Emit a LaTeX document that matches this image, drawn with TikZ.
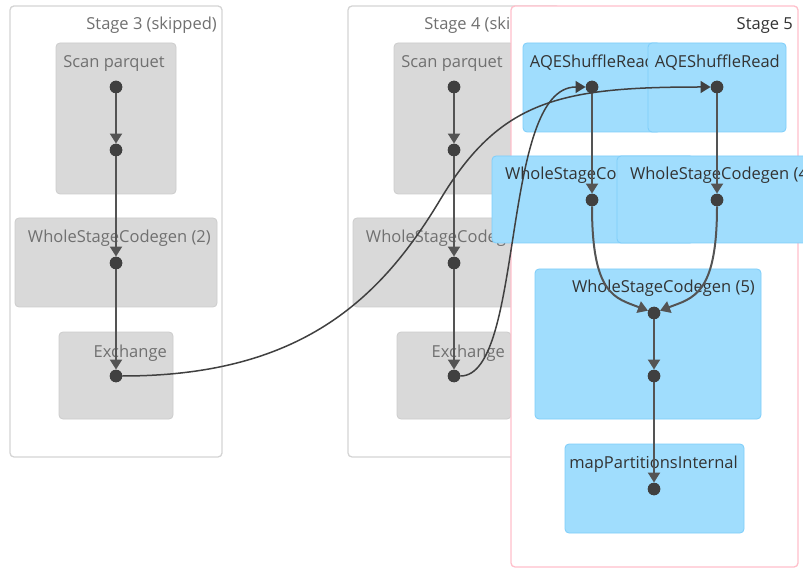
\documentclass[tikz,border=0pt]{standalone}
\usepackage{fontspec}
\setmainfont{Open Sans}
\usetikzlibrary{arrows.meta}
\definecolor{stageline}{RGB}{212,212,212}
\definecolor{pinkline}{RGB}{255,192,203}
\definecolor{grayfill}{RGB}{217,217,217}
\definecolor{grayline}{RGB}{204,204,204}
\definecolor{bluefill}{RGB}{160,221,253}
\definecolor{blueline}{RGB}{125,205,250}
\definecolor{dimtext}{RGB}{112,112,112}
\definecolor{darktext}{RGB}{51,51,51}
\definecolor{dotcol}{RGB}{64,64,64}
\definecolor{edgecol}{RGB}{84,84,84}
\tikzset{
  stagebox/.style={draw=stageline, line width=1.3pt, fill=white, rounded corners=4pt, inner sep=0pt},
  skipbox/.style={fill=grayfill, draw=grayline, line width=0.8pt, rounded corners=4pt, inner sep=0pt},
  livebox/.style={fill=bluefill, draw=blueline, line width=0.8pt, rounded corners=4pt, inner sep=0pt},
  lbl/.style={anchor=base east, inner sep=0pt, font=\fontsize{16.5}{19}\selectfont},
  dimlbl/.style={lbl, text=dimtext},
  darklbl/.style={lbl, text=darktext},
  opdot/.style={circle, fill=dotcol, inner sep=0pt, minimum size=12.5pt},
  flow/.style={draw=edgecol, line width=2pt, -{Triangle[length=10pt,width=12pt]}},
  crossflow/.style={draw=dotcol, line width=1.5pt, -{Triangle[length=10pt,width=12pt]}},
}
\begin{document}
\begin{tikzpicture}[x=1pt, y=-1pt]
\useasboundingbox (0,0) rectangle (803,569);
\clip (0,0) rectangle (803,569);

% Stage 3 (skipped)
\node[stagebox, minimum width=212pt, minimum height=451pt] (stg3) at (116,231.5) {};
\node[dimlbl] (stg3l) at (217,30) {Stage 3 (skipped)};
\node[skipbox, minimum width=120pt, minimum height=151pt] (scan3) at (116,118.5) {};
\node[dimlbl] (scan3l) at (165,68) {Scan parquet};
\node[skipbox, minimum width=202pt, minimum height=89pt] (wsc2) at (116,262.5) {};
\node[dimlbl] (wsc2l) at (211,243) {WholeStageCodegen (2)};
\node[skipbox, minimum width=114pt, minimum height=87pt] (exc3) at (116,375.5) {};
\node[dimlbl] (exc3l) at (167,357) {Exchange};

% Stage 4 (skipped)
\node[stagebox, minimum width=212pt, minimum height=451pt] (stg4) at (454,231.5) {};
\node[dimlbl] (stg4l) at (555,30) {Stage 4 (skipped)};
\node[skipbox, minimum width=120pt, minimum height=151pt] (scan4) at (454,118.5) {};
\node[dimlbl] (scan4l) at (503,68) {Scan parquet};
\node[skipbox, minimum width=202pt, minimum height=89pt] (wsc1) at (454,262.5) {};
\node[dimlbl] (wsc1l) at (549,243) {WholeStageCodegen (1)};
\node[skipbox, minimum width=114pt, minimum height=87pt] (exc4) at (454,375.5) {};
\node[dimlbl] (exc4l) at (505,357) {Exchange};

% Stage 5
\node[draw=pinkline, line width=1.3pt, fill=white, rounded corners=4pt, inner sep=0pt,
      minimum width=287pt, minimum height=561pt] (stg5) at (654.5,286.5) {};
\node[darklbl] (stg5l) at (793,30) {Stage 5};
\node[livebox, minimum width=138pt, minimum height=89pt] (aqe1) at (592,87.5) {};
\node[darklbl] (aqe1l) at (655,68) {AQEShuffleRead};
\node[livebox, minimum width=138pt, minimum height=89pt] (aqe2) at (717,87.5) {};
\node[darklbl] (aqe2l) at (780,68) {AQEShuffleRead};
\node[livebox, minimum width=202pt, minimum height=87pt] (wsc3) at (593,199.5) {};
\node[darklbl] (wsc3l) at (688,180) {WholeStageCodegen (3)};
\node[livebox, minimum width=202pt, minimum height=87pt] (wsc4) at (718,199.5) {};
\node[darklbl] (wsc4l) at (813,180) {WholeStageCodegen (4)};
\node[livebox, minimum width=226pt, minimum height=150pt] (wsc5) at (648,344) {};
\node[darklbl] (wsc5l) at (755,293) {WholeStageCodegen (5)};
\node[livebox, minimum width=179pt, minimum height=89pt] (mpi) at (654.5,488.5) {};
\node[darklbl] (mpil) at (738,468) {mapPartitionsInternal};

% operator dots
\foreach \n/\x/\y in {s3a/116/87, s3b/116/150, s3c/116/263, s3d/116/376,
                      s4a/454/87, s4b/454/150, s4c/454/263, s4d/454/376,
                      q1/592/87, q2/717/87, w3/592/200, w4/717/200,
                      w5a/654/313, w5b/654/376, mp/654/489}
  \node[opdot] (\n) at (\x,\y) {};

% edges within stages
\draw[flow] (s3a) -- (s3b);
\draw[flow] (s3b) -- (s3c);
\draw[flow] (s3c) -- (s3d);
\draw[flow] (s4a) -- (s4b);
\draw[flow] (s4b) -- (s4c);
\draw[flow] (s4c) -- (s4d);
\draw[flow] (q1) -- (w3);
\draw[flow] (q2) -- (w4);
\draw[flow] (w3) .. controls (592,295) and (615,298) .. (w5a);
\draw[flow] (w4) .. controls (717,295) and (693,298) .. (w5a);
\draw[flow] (w5a) -- (w5b);
\draw[flow] (w5b) -- (mp);

% shuffle edges between stages
\coordinate (bend) at (440,200);
\draw[crossflow] (s3d) .. controls (300,376) and (380,300) .. (bend)
                       .. controls (500,100) and (560,87) .. (q2);
\draw[crossflow] (s4d) .. controls (525,376) and (500,87) .. (q1);

% redraw dots on top of the edges
\foreach \n in {s3a,s3b,s3c,s3d,s4a,s4b,s4c,s4d,q1,q2,w3,w4,w5a,w5b,mp}
  \fill[dotcol] (\n) circle (6.25pt);
\end{tikzpicture}
\end{document}
